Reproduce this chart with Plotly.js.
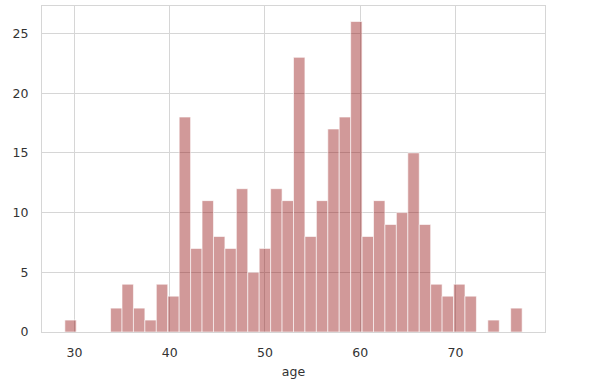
<!DOCTYPE html>
<html>
<head>
<meta charset="utf-8">
<script src="https://cdn.plot.ly/plotly-3.0.1.min.js"></script>
<style>html,body{margin:0;padding:0;background:#fff;}#chart{width:607px;height:389px;}</style>
</head>
<body>
<div id="chart"></div>
<script>
// Histogram of age: 40 bins from min to max age
const ageMin = 29;
const ageMax = 77;
const binCount = 40;
const counts = [1,0,0,0,2,4,2,1,4,3,18,7,11,8,7,12,5,7,12,11,23,8,11,17,18,26,8,11,9,10,15,9,4,3,4,3,0,1,0,2];
const xTicks = [30,40,50,60,70];
const yTicks = [0,5,10,15,20,25];

const binWidth = (ageMax - ageMin) / binCount;
const centers = counts.map((_, i) => ageMin + binWidth * (i + 0.5));

const pad = (ageMax - ageMin) * 0.05;
const yMax = Math.max(...counts) * 1.05;

const font = {family: 'DejaVu Sans, sans-serif', size: 12.5, color: '#333333'};

Plotly.newPlot('chart', [{
  type: 'bar',
  x: centers,
  y: counts,
  width: binWidth,
  marker: {color: 'rgba(139,0,0,0.4)', line: {color: 'rgba(255,255,255,0.6)', width: 1}},
  hoverinfo: 'x+y'
}], {
  width: 607, height: 389,
  margin: {l: 42, r: 62, t: 6, b: 57},
  paper_bgcolor: '#fff', plot_bgcolor: '#fff',
  showlegend: false,
  bargap: 0,
  font: font,
  xaxis: {
    range: [ageMin - pad, ageMax + pad],
    tickvals: xTicks, ticktext: xTicks.map(String),
    showgrid: true, gridcolor: '#d6d6d6', gridwidth: 1,
    zeroline: false, showline: true, linecolor: '#d6d6d6', linewidth: 1, mirror: true,
    ticks: 'outside', ticklen: 9, tickcolor: 'rgba(0,0,0,0)',
    title: {text: 'age', font: font, standoff: 8}
  },
  yaxis: {
    range: [0, yMax],
    tickvals: yTicks, ticktext: yTicks.map(String),
    showgrid: true, gridcolor: '#d6d6d6', gridwidth: 1,
    zeroline: false, showline: true, linecolor: '#d6d6d6', linewidth: 1, mirror: true,
    ticks: 'outside', ticklen: 10, tickcolor: 'rgba(0,0,0,0)'
  }
}, {displayModeBar: false, staticPlot: true});
</script>
</body>
</html>
